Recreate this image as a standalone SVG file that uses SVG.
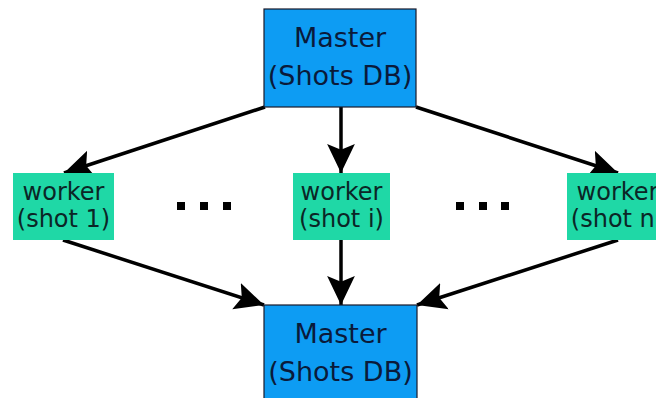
<svg xmlns="http://www.w3.org/2000/svg" width="656" height="398" viewBox="0 0 656 398">
<style>
.master rect{fill:#0d9cf3;stroke:#1a1a2a;stroke-width:1.2}
.master text{font-family:"DejaVu Sans",sans-serif;font-size:27px;fill:#0a1a3a;text-anchor:middle}
.worker rect{fill:#1fd8a6;stroke:none}
.worker text{font-family:"DejaVu Sans",sans-serif;font-size:24px;fill:#0b2626;text-anchor:middle}
.edge{stroke:#000;stroke-width:3.5;fill:none;marker-end:url(#ah)}
.dot{fill:#000}
</style>
<defs>
<marker id="ah" markerUnits="userSpaceOnUse" markerWidth="30" markerHeight="30" refX="26" refY="12.5" orient="auto" viewBox="0 0 27 25">
<path d="M0,0 L26,12.5 L0,25 L5,12.5 z" fill="#000"/>
</marker>
</defs>
<g id="connectors">
<line class="edge" x1="265" y1="107" x2="64" y2="173"/>
<line class="edge" x1="341" y1="107" x2="341" y2="173"/>
<line class="edge" x1="416" y1="107" x2="618" y2="173"/>
<line class="edge" x1="63" y1="240" x2="264" y2="305"/>
<line class="edge" x1="341" y1="240" x2="341" y2="305"/>
<line class="edge" x1="618" y1="240" x2="417" y2="305"/>
</g>
<g id="master_top" class="master">
<rect x="264" y="9" width="152" height="98"/>
<text x="340" y="47">Master</text>
<text x="340" y="85">(Shots DB)</text>
</g>
<g id="worker_1" class="worker">
<rect x="13" y="173" width="101" height="67"/>
<text x="63.5" y="200">worker</text>
<text x="63.5" y="227">(shot 1)</text>
</g>
<g id="worker_i" class="worker">
<rect x="293" y="173" width="97" height="67"/>
<text x="341.5" y="200">worker</text>
<text x="341.5" y="227">(shot i)</text>
</g>
<g id="worker_n" class="worker">
<rect x="567" y="173" width="101" height="67"/>
<text x="617.5" y="200">worker</text>
<text x="617.5" y="227">(shot n)</text>
</g>
<g id="dots_left">
<rect class="dot" x="177" y="202" width="8" height="8"/>
<rect class="dot" x="200" y="202" width="8" height="8"/>
<rect class="dot" x="223" y="202" width="8" height="8"/>
</g>
<g id="dots_right">
<rect class="dot" x="456" y="202" width="8" height="8"/>
<rect class="dot" x="479" y="202" width="8" height="8"/>
<rect class="dot" x="501" y="202" width="8" height="8"/>
</g>
<g id="master_bottom" class="master">
<rect x="264" y="305" width="153" height="98"/>
<text x="340.5" y="343">Master</text>
<text x="340.5" y="381">(Shots DB)</text>
</g>
</svg>
